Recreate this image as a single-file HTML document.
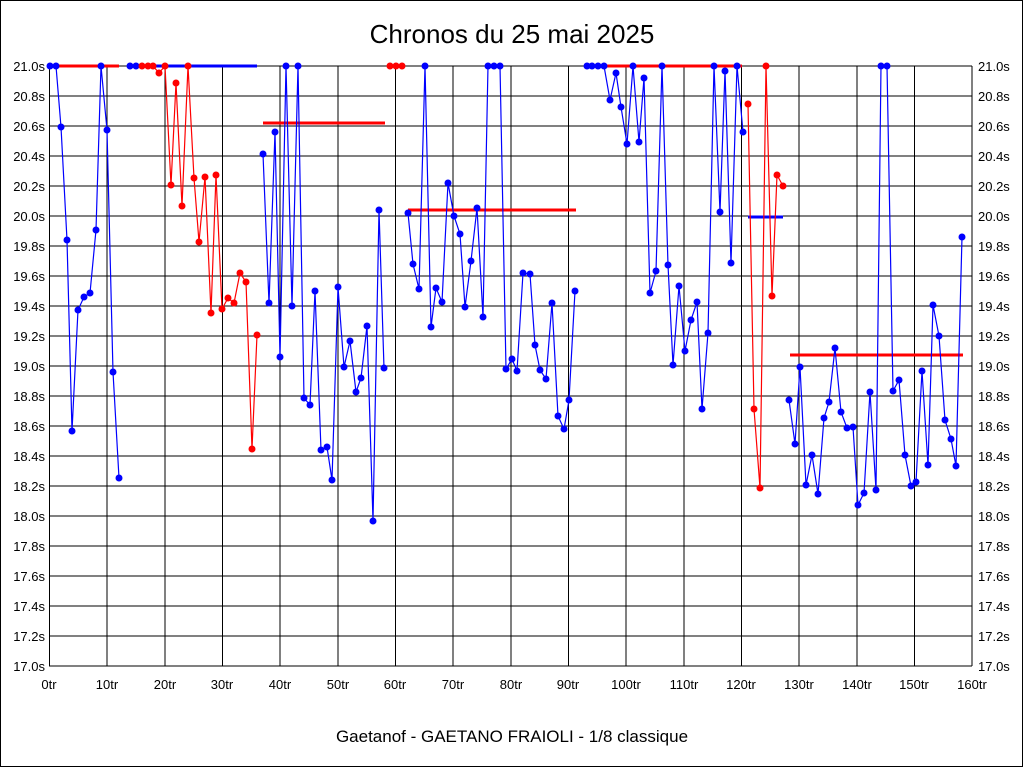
<!DOCTYPE html>
<html><head><meta charset="utf-8"><style>
body{margin:0;background:#fff}
svg text{font-family:"Liberation Sans",sans-serif;fill:#000}
</style></head><body>
<svg width="1024" height="768" viewBox="0 0 1024 768" xmlns="http://www.w3.org/2000/svg">
<defs>
<marker id="mb" markerUnits="userSpaceOnUse" markerWidth="8" markerHeight="8" refX="4" refY="4"><circle cx="4" cy="4" r="3.5" fill="#0000ff"/></marker>
<marker id="mr" markerUnits="userSpaceOnUse" markerWidth="8" markerHeight="8" refX="4" refY="4"><circle cx="4" cy="4" r="3.5" fill="#ff0000"/></marker>
</defs>
<rect x="0.5" y="0.5" width="1022" height="766" fill="#fff" stroke="#000"/>
<text x="512" y="43" font-size="26" text-anchor="middle">Chronos du 25 mai 2025</text>
<text x="512" y="742" font-size="17" text-anchor="middle">Gaetanof - GAETANO FRAIOLI - 1/8 classique</text>
<g stroke="#000" stroke-width="1">
<path d="M49 66H972M49 96H972M49 126H972M49 156H972M49 186H972M49 216H972M49 246H972M49 276H972M49 306H972M49 336H972M49 366H972M49 396H972M49 426H972M49 456H972M49 486H972M49 516H972M49 546H972M49 576H972M49 606H972M49 636H972M49 666H972"/>
<path d="M49.5 66V666M107 66V666M165 66V666M222.5 66V666M280 66V666M338 66V666M395.5 66V666M453 66V666M511 66V666M568.5 66V666M626 66V666M684 66V666M741.5 66V666M799 66V666M857 66V666M914.5 66V666M972 66V666"/>
</g>
<g font-size="13" text-anchor="end">
<text x="45" y="71">21.0s</text><text x="45" y="101">20.8s</text><text x="45" y="131">20.6s</text><text x="45" y="161">20.4s</text><text x="45" y="191">20.2s</text><text x="45" y="221">20.0s</text><text x="45" y="251">19.8s</text><text x="45" y="281">19.6s</text><text x="45" y="311">19.4s</text><text x="45" y="341">19.2s</text><text x="45" y="371">19.0s</text><text x="45" y="401">18.8s</text><text x="45" y="431">18.6s</text><text x="45" y="461">18.4s</text><text x="45" y="491">18.2s</text><text x="45" y="521">18.0s</text><text x="45" y="551">17.8s</text><text x="45" y="581">17.6s</text><text x="45" y="611">17.4s</text><text x="45" y="641">17.2s</text><text x="45" y="671">17.0s</text>
</g>
<g font-size="13">
<text x="978" y="71">21.0s</text><text x="978" y="101">20.8s</text><text x="978" y="131">20.6s</text><text x="978" y="161">20.4s</text><text x="978" y="191">20.2s</text><text x="978" y="221">20.0s</text><text x="978" y="251">19.8s</text><text x="978" y="281">19.6s</text><text x="978" y="311">19.4s</text><text x="978" y="341">19.2s</text><text x="978" y="371">19.0s</text><text x="978" y="401">18.8s</text><text x="978" y="431">18.6s</text><text x="978" y="461">18.4s</text><text x="978" y="491">18.2s</text><text x="978" y="521">18.0s</text><text x="978" y="551">17.8s</text><text x="978" y="581">17.6s</text><text x="978" y="611">17.4s</text><text x="978" y="641">17.2s</text><text x="978" y="671">17.0s</text>
</g>
<g font-size="13" text-anchor="middle">
<text x="49" y="689">0tr</text><text x="107" y="689">10tr</text><text x="165" y="689">20tr</text><text x="222" y="689">30tr</text><text x="280" y="689">40tr</text><text x="338" y="689">50tr</text><text x="395" y="689">60tr</text><text x="453" y="689">70tr</text><text x="511" y="689">80tr</text><text x="568" y="689">90tr</text><text x="626" y="689">100tr</text><text x="684" y="689">110tr</text><text x="741" y="689">120tr</text><text x="799" y="689">130tr</text><text x="857" y="689">140tr</text><text x="914" y="689">150tr</text><text x="972" y="689">160tr</text>
</g>
<g stroke-width="3">
<path d="M50 66H119" stroke="#ff0000"/>
<path d="M130 66H257" stroke="#0000ff"/>
<path d="M263 123H385" stroke="#ff0000"/>
<path d="M408 210H576" stroke="#ff0000"/>
<path d="M605 66H742" stroke="#ff0000"/>
<path d="M748 217H783" stroke="#0000ff"/>
<path d="M790 355H963" stroke="#ff0000"/>
</g>
<g fill="none" stroke-width="1.2">
<polyline stroke="#0000ff" marker-start="url(#mb)" marker-mid="url(#mb)" marker-end="url(#mb)" points="50,66 56,66 61,127 67,240 72,431 78,310 84,297 90,293 96,230 101,66 107,130 113,372 119,478"/>
<polyline stroke="#0000ff" marker-start="url(#mb)" marker-mid="url(#mb)" marker-end="url(#mb)" points="130,66 136,66"/>
<polyline stroke="#ff0000" marker-start="url(#mr)" marker-mid="url(#mr)" marker-end="url(#mr)" points="142,66 148,66 153,66 159,73 165,66 171,185 176,83 182,206 188,66 194,178 199,242 205,177 211,313 216,175 222,309 228,298 234,303 240,273 246,282 252,449 257,335"/>
<polyline stroke="#0000ff" marker-start="url(#mb)" marker-mid="url(#mb)" marker-end="url(#mb)" points="263,154 269,303 275,132 280,357 286,66 292,306 298,66 304,398 310,405 315,291 321,450 327,447 332,480 338,287 344,367 350,341 356,392 361,378 367,326 373,521 379,210 384,368"/>
<polyline stroke="#ff0000" marker-start="url(#mr)" marker-mid="url(#mr)" marker-end="url(#mr)" points="390,66 396,66 402,66"/>
<polyline stroke="#0000ff" marker-start="url(#mb)" marker-mid="url(#mb)" marker-end="url(#mb)" points="408,213 413,264 419,289 425,66 431,327 436,288 442,302 448,183 454,216 460,234 465,307 471,261 477,208 483,317 488,66 494,66 500,66 506,369 512,359 517,371 523,273 530,274 535,345 540,370 546,379 552,303 558,416 564,429 569,400 575,291"/>
<polyline stroke="#0000ff" marker-start="url(#mb)" marker-mid="url(#mb)" marker-end="url(#mb)" points="587,66 592,66 598,66 604,66 610,100 616,73 621,107 627,144 633,66 639,142 644,78 650,293 656,271 662,66 668,265 673,365 679,286 685,351 691,320 697,302 702,409 708,333 714,66 720,212 725,71 731,263 737,66 743,132"/>
<polyline stroke="#ff0000" marker-start="url(#mr)" marker-mid="url(#mr)" marker-end="url(#mr)" points="748,104 754,409 760,488 766,66 772,296 777,175 783,186"/>
<polyline stroke="#0000ff" marker-start="url(#mb)" marker-mid="url(#mb)" marker-end="url(#mb)" points="789,400 795,444 800,367 806,485 812,455 818,494 824,418 829,402 835,348 841,412 847,428 853,427 858,505 864,493 870,392 876,490 881,66 887,66 893,391 899,380 905,455 911,486 916,482 922,371 928,465 933,305 939,336 945,420 951,439 956,466 962,237"/>
</g>
</svg>
</body></html>
